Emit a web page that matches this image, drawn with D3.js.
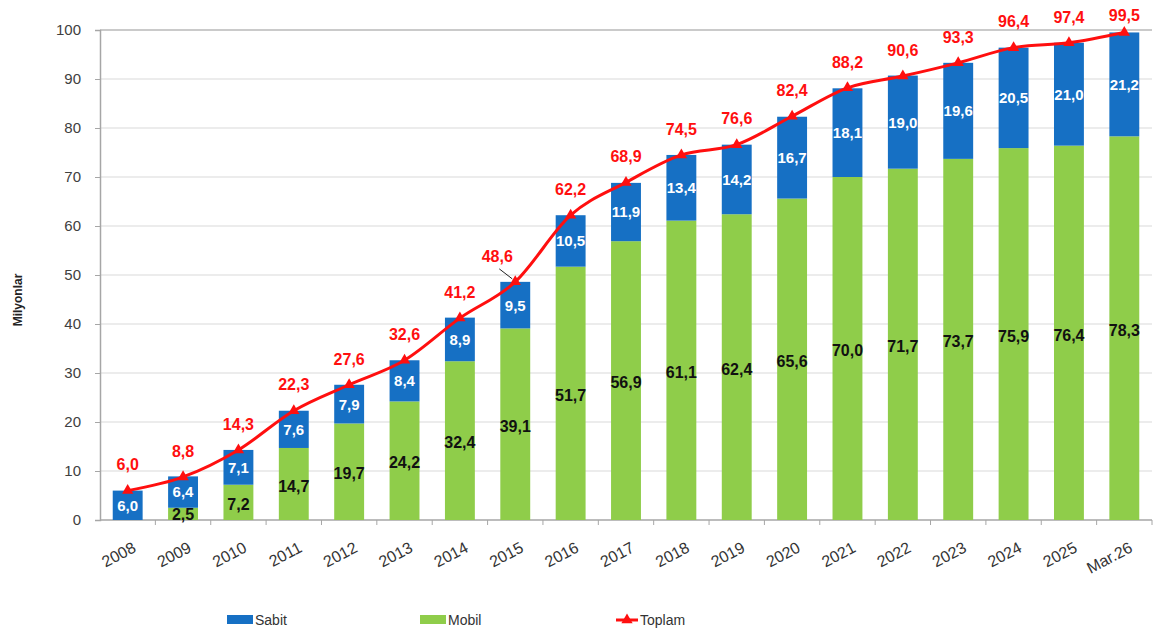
<!DOCTYPE html>
<html>
<head>
<meta charset="utf-8">
<script src="https://cdn.jsdelivr.net/npm/d3@7"></script>
<style>
  body { margin: 0; background: #fff; }
  text { font-family: "Liberation Sans", Arial, sans-serif; }
</style>
</head>
<body>
<div id="main"></div>
<script>
// categories + series
const years = ['2008', '2009', '2010', '2011', '2012', '2013', '2014', '2015', '2016', '2017',
               '2018', '2019', '2020', '2021', '2022', '2023', '2024', '2025', 'Mar.26']
const sabit = [6.0, 6.4, 7.1, 7.6, 7.9, 8.4, 8.9, 9.5, 10.5, 11.9, 13.4, 14.2, 16.7, 18.1, 19.0, 19.6, 20.5, 21.0, 21.2]
const mobil = [0, 2.5, 7.2, 14.7, 19.7, 24.2, 32.4, 39.1, 51.7, 56.9, 61.1, 62.4, 65.6, 70.0, 71.7, 73.7, 75.9, 76.4, 78.3]
const toplam = [6.0, 8.8, 14.3, 22.3, 27.6, 32.6, 41.2, 48.6, 62.2, 68.9, 74.5, 76.6, 82.4, 88.2, 90.6, 93.3, 96.4, 97.4, 99.5]
const yTicks = [0, 10, 20, 30, 40, 50, 60, 70, 80, 90, 100]

const w = 1154
const h = 637
const padL = 100, padR = 1152, padT = 30, padB = 520

const blue = '#1670c4'
const green = '#8fcd4a'
const red = '#ff0f0f'

const fmt = v => v.toFixed(1).replace('.', ',')

let svg = d3.select('#main').append('svg')
    .attr('width', w)
    .attr('height', h)

let x = d3.scaleBand()
    .domain(years)
    .range([padL, padR])
    .paddingInner(0.46)
    .paddingOuter(0.23)

let y = d3.scaleLinear()
    .domain([0, 100])
    .range([padB, padT])

// gridlines
svg.append('g')
    .selectAll('line')
    .data(yTicks.slice(1))
    .enter()
    .append('line')
    .attr('x1', padL)
    .attr('x2', padR)
    .attr('y1', d => y(d))
    .attr('y2', d => y(d))
    .attr('stroke', d => d == 100 ? '#b8b8b8' : '#e6e6e6')
    .attr('stroke-width', 1.5)

// y axis
let yAxis = d3.axisLeft(y)
    .tickValues(yTicks)
    .tickSize(5)
    .tickPadding(14)

let gy = svg.append('g')
    .attr('transform', 'translate(' + padL + ',0)')
    .call(yAxis)
gy.select('.domain').attr('stroke', '#a6a6a6').attr('stroke-width', 1.5)
gy.selectAll('.tick line').attr('stroke', '#a6a6a6')
gy.selectAll('text').attr('font-size', 15).attr('fill', '#404040')

svg.append('text')
    .attr('transform', 'translate(22,300) rotate(-90)')
    .attr('text-anchor', 'middle')
    .attr('font-size', 12)
    .attr('font-weight', 'bold')
    .attr('fill', '#222')
    .text('Milyonlar')

// x axis: ticks sit between the bands
let gx = svg.append('g')
    .attr('transform', 'translate(0,' + padB + ')')
gx.append('line')
    .attr('x1', padL).attr('x2', padR)
    .attr('stroke', '#a6a6a6').attr('stroke-width', 1.5)
gx.selectAll('.tk')
    .data(years)
    .enter()
    .append('line')
    .attr('x1', d => x(d) + x.bandwidth() / 2 + x.step() / 2)
    .attr('x2', d => x(d) + x.bandwidth() / 2 + x.step() / 2)
    .attr('y1', 0).attr('y2', 5)
    .attr('stroke', '#a6a6a6')
gx.selectAll('.lbl')
    .data(years)
    .enter()
    .append('text')
    .attr('text-anchor', 'end')
    .attr('dy', '0.71em')
    .attr('transform', d => 'translate(' + (x(d) + x.bandwidth() / 2 + 4) + ',21) rotate(-28)')
    .attr('font-size', 16)
    .attr('fill', '#333')
    .text(d => d)

// stacked bars
svg.append('g')
    .selectAll('rect')
    .data(years)
    .enter()
    .append('rect')
    .attr('x', d => x(d))
    .attr('width', x.bandwidth())
    .attr('y', (d, i) => y(mobil[i]))
    .attr('height', (d, i) => y(0) - y(mobil[i]))
    .attr('fill', green)

svg.append('g')
    .selectAll('rect')
    .data(years)
    .enter()
    .append('rect')
    .attr('x', d => x(d))
    .attr('width', x.bandwidth())
    .attr('y', (d, i) => y(mobil[i] + sabit[i]))
    .attr('height', (d, i) => y(mobil[i]) - y(mobil[i] + sabit[i]))
    .attr('fill', blue)

// segment labels
svg.append('g')
    .selectAll('text')
    .data(years)
    .enter()
    .append('text')
    .attr('x', d => x(d) + x.bandwidth() / 2)
    .attr('y', (d, i) => y(mobil[i] + sabit[i] / 2))
    .attr('dy', '0.36em')
    .attr('text-anchor', 'middle')
    .attr('font-size', 15)
    .attr('font-weight', 'bold')
    .attr('fill', '#fff')
    .text((d, i) => fmt(sabit[i]))

svg.append('g')
    .selectAll('text')
    .data(years.filter((d, i) => mobil[i] > 0))
    .enter()
    .append('text')
    .attr('x', d => x(d) + x.bandwidth() / 2)
    .attr('y', d => {
        let v = mobil[years.indexOf(d)]
        return Math.min(y(v / 2) + 2, padB - 6)
    })
    .attr('dy', '0.36em')
    .attr('text-anchor', 'middle')
    .attr('font-size', 16)
    .attr('font-weight', 'bold')
    .attr('fill', '#111')
    .text(d => fmt(mobil[years.indexOf(d)]))

// total line
let cx = d => x(d) + x.bandwidth() / 2
let line = d3.line()
    .x(d => cx(d))
    .y(d => y(toplam[years.indexOf(d)]))
    .curve(d3.curveMonotoneX)

svg.append('path')
    .datum(years)
    .attr('d', line)
    .attr('fill', 'none')
    .attr('stroke', red)
    .attr('stroke-width', 3)

let tri = d3.symbol().type(d3.symbolTriangle).size(55)
svg.append('g')
    .selectAll('path')
    .data(years)
    .enter()
    .append('path')
    .attr('d', tri)
    .attr('transform', d => 'translate(' + cx(d) + ',' + y(toplam[years.indexOf(d)]) + ')')
    .attr('fill', red)

// total labels (2015 is nudged left with a leader line, like the original)
svg.append('g')
    .selectAll('text')
    .data(years)
    .enter()
    .append('text')
    .attr('x', (d, i) => cx(d) + (i == 7 ? -18 : 0))
    .attr('y', (d, i) => Math.max(y(toplam[i]) - 26, 15))
    .attr('dy', '0.36em')
    .attr('text-anchor', 'middle')
    .attr('font-size', 16)
    .attr('font-weight', 'bold')
    .attr('fill', red)
    .text((d, i) => fmt(toplam[i]))

svg.append('line')
    .attr('x1', cx(years[7]) - 16)
    .attr('y1', y(toplam[7]) - 13)
    .attr('x2', cx(years[7]) - 3)
    .attr('y2', y(toplam[7]) - 3)
    .attr('stroke', '#222')
    .attr('stroke-width', 1)

// legend
const legY = 620
let leg = svg.append('g')
leg.append('rect').attr('x', 227).attr('y', legY - 5).attr('width', 26).attr('height', 9).attr('fill', blue)
leg.append('text').attr('x', 255).attr('y', legY).attr('dy', '0.36em').attr('font-size', 14).attr('fill', '#333').text('Sabit')
leg.append('rect').attr('x', 420).attr('y', legY - 5).attr('width', 26).attr('height', 9).attr('fill', green)
leg.append('text').attr('x', 448).attr('y', legY).attr('dy', '0.36em').attr('font-size', 14).attr('fill', '#333').text('Mobil')
leg.append('line').attr('x1', 616).attr('x2', 638).attr('y1', legY).attr('y2', legY).attr('stroke', red).attr('stroke-width', 3)
leg.append('path').attr('d', tri).attr('transform', 'translate(627,' + legY + ')').attr('fill', red)
leg.append('text').attr('x', 640).attr('y', legY).attr('dy', '0.36em').attr('font-size', 14).attr('fill', '#333').text('Toplam')
</script>
</body>
</html>
